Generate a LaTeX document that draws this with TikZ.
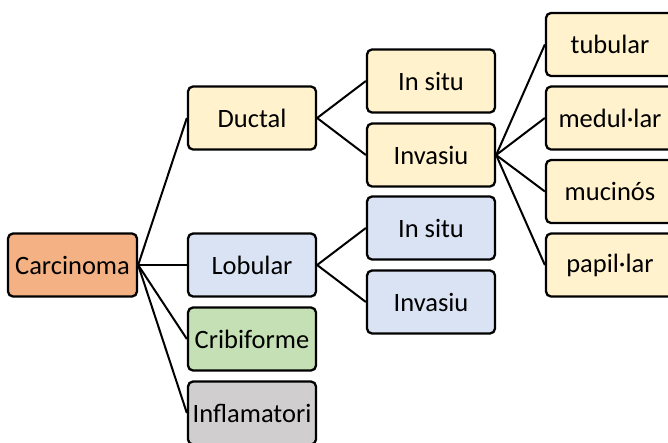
\documentclass[tikz,border=0pt]{standalone}
\usepackage{fontspec}
\setmainfont{Carlito}
\definecolor{corange}{HTML}{F4B183}
\definecolor{cyellow}{HTML}{FFF2CC}
\definecolor{cblue}{HTML}{DAE3F3}
\definecolor{cgreen}{HTML}{C5E0B4}
\definecolor{cgrey}{HTML}{D0CECE}
\begin{document}
\begin{tikzpicture}[x=1pt,y=-1pt,
  box/.style={draw=black,line width=2.3pt,rounded corners=5pt,minimum width=128pt,minimum height=63pt,inner sep=0pt,font=\fontsize{26.5}{30}\selectfont,anchor=center},
  conn/.style={line width=2pt}]
\useasboundingbox (0,0) rectangle (668,442);
\clip (0,0) rectangle (668,442);
\node[box,fill=corange,minimum width=129pt] (carc) at (72.5,265) {Carcinoma};
\node[box,fill=cyellow] (duct) at (252,118) {Ductal};
\node[box,fill=cblue] (lob) at (252,265) {Lobular};
\node[box,fill=cgreen] (crib) at (252,339) {Cribiforme};
\node[box,fill=cgrey] (infl) at (252,413) {Inflamatori};
\node[box,fill=cyellow] (dis) at (431,81) {In situ};
\node[box,fill=cyellow] (dinv) at (431,155) {Invasiu};
\node[box,fill=cblue] (lis) at (431,228) {In situ};
\node[box,fill=cblue] (linv) at (431,302) {Invasiu};
\node[box,fill=cyellow] (tub) at (610,44.5) {tubular};
\node[box,fill=cyellow] (med) at (610,118) {medul·lar};
\node[box,fill=cyellow] (muc) at (610,191.5) {mucinós};
\node[box,fill=cyellow] (pap) at (610,265) {papil·lar};
\foreach \t in {duct,lob,crib,infl} \draw[conn] (carc.east) -- (\t.west);
\foreach \t in {dis,dinv} \draw[conn] (duct.east) -- (\t.west);
\foreach \t in {lis,linv} \draw[conn] (lob.east) -- (\t.west);
\foreach \t in {tub,med,muc,pap} \draw[conn] (dinv.east) -- (\t.west);
\end{tikzpicture}
\end{document}
